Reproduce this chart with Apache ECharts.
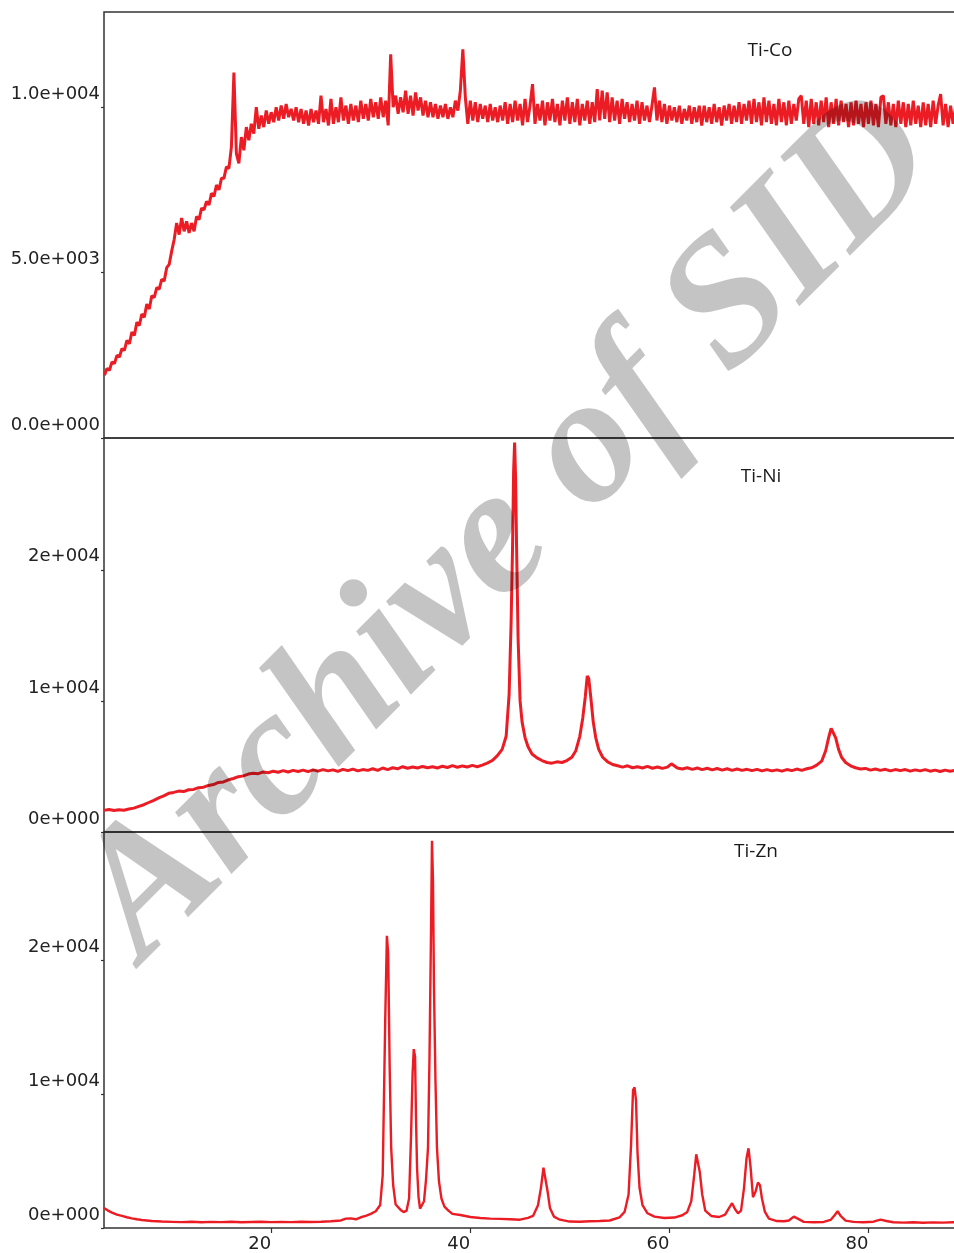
<!DOCTYPE html>
<html>
<head>
    <meta charset="utf-8">
    <title>XRD Ti-Co / Ti-Ni / Ti-Zn</title>
    <script src="https://cdnjs.cloudflare.com/ajax/libs/echarts/6.0.0/echarts.min.js"></script>
    <style>
        html, body { margin: 0; padding: 0; background: #fff; }
    </style>
</head>
<body>
    <div id="main" style="width: 954px;height:1253px;"></div>
    <script type="text/javascript">
        // 2theta range of the scans
        var xMin = 3.2;
        var xMax = 90;
        var xTicks = [20, 40, 60, 80];

        // y ticks for each panel
        var coTicks = [0, 5000, 10000];
        var coTickLabels = ['0.0e+000', '5.0e+003', '1.0e+004'];
        var niTicks = [0, 10000, 20000];
        var niTickLabels = ['0e+000', '1e+004', '2e+004'];
        var znTicks = [0, 10000, 20000];
        var znTickLabels = ['0e+000', '1e+004', '2e+004'];

        var panelNames = ['Ti-Co', 'Ti-Ni', 'Ti-Zn'];

        // Ti-Co: counts on a 0.25 deg step grid starting at 3.25
        var coStart = 3.25;
        var coStep = 0.25;
        var coCounts = [
            1900, 2100, 2050, 2300, 2250, 2500, 2450, 2700, 2650, 2950, 2850, 3200, 3100, 3500, 3400, 3750, 3650, 4050, 3900, 4300,
            4250, 4550, 4500, 4800, 4750, 5150, 5250, 5650, 6000, 6500, 6150, 6650, 6250, 6550, 6200, 6500, 6250, 6700, 6600, 6950,
            6900, 7150, 7050, 7400, 7300, 7650, 7500, 7850, 7850, 8200, 8150, 8800, 11050, 8600, 8300, 9100, 8700, 9400, 9000, 9500,
            9200, 10000, 9350, 9750, 9400, 9900, 9500, 9850, 9550, 10000, 9600, 10050, 9650, 10100, 9700, 9950, 9600, 10000, 9550, 9950,
            9500, 9900, 9450, 9950, 9550, 9900, 9500, 10350, 9550, 9950, 9450, 10250, 9500, 10000, 9550, 10300, 9600, 10050, 9500, 10100,
            9600, 10050, 9550, 10200, 9650, 10100, 9600, 10250, 9700, 10150, 9650, 10300, 9700, 10200, 9450, 11600, 10000, 10350, 9800, 10300,
            9850, 10500, 9800, 10350, 9750, 10450, 9900, 10300, 9750, 10200, 9700, 10150, 9700, 10100, 9650, 10050, 9700, 10100, 9650, 10000,
            9700, 10200, 9900, 10500, 11750, 10300, 9500, 10200, 9600, 10150, 9550, 10100, 9650, 10050, 9550, 10100, 9600, 10000, 9550, 10050,
            9600, 10150, 9500, 10100, 9550, 10200, 9600, 10100, 9450, 10250, 9550, 10050, 10700, 9500, 10100, 9600, 10200, 9450, 10150, 9600,
            10250, 9550, 10100, 9450, 10200, 9600, 10300, 9500, 10150, 9550, 10250, 9450, 10100, 9600, 10200, 9500, 10150, 9550, 10550, 9600,
            10500, 9650, 10450, 9550, 10300, 9600, 10200, 9500, 10250, 9650, 10150, 9550, 10100, 9600, 10200, 9500, 10150, 9600, 10050, 9550,
            10050, 10600, 9600, 10200, 9550, 10100, 9500, 10050, 9600, 10000, 9550, 10050, 9500, 9950, 9600, 10050, 9500, 10000, 9550, 10050,
            9450, 10050, 9550, 10000, 9500, 10100, 9550, 10000, 9450, 10050, 9600, 10100, 9500, 10050, 9550, 10150, 9500, 10100, 9600, 10200,
            9500, 10250, 9550, 10150, 9450, 10300, 9550, 10200, 9500, 10100, 9450, 10250, 9550, 10150, 9450, 10200, 9500, 10100, 9600, 10250,
            10350, 9500, 10200, 9400, 10250, 9500, 10150, 9450, 10200, 9550, 10300, 9400, 10150, 9500, 10250, 9450, 10200, 9550, 10100, 9400,
            10150, 9450, 10200, 9500, 10100, 9400, 10150, 9500, 10200, 9450, 10100, 9400, 10300, 10350, 9500, 10150, 9450, 10100, 9400, 10200,
            9500, 10150, 9400, 10100, 9450, 10200, 9500, 10050, 9400, 10150, 9450, 10100, 9400, 10200, 9500, 10050, 10400, 9450, 10100, 9400,
            10050, 9500, 10000, 9600
        ];

        // Ti-Ni: [2theta, counts]
        var niData = [
            [3.2,1650],[3.7,1720],[4.2,1640],[4.7,1700],[5.2,1660],[5.7,1750],[6.2,1820],[6.7,1950],[7.2,2080],[7.7,2250],
            [8.2,2420],[8.7,2600],[9.2,2750],[9.7,2950],[10.2,3020],[10.7,3120],[11.2,3080],[11.7,3220],[12.2,3250],[12.7,3380],
            [13.2,3420],[13.7,3550],[14.2,3620],[14.7,3780],[15.2,3820],[15.7,3980],[16.2,4080],[16.7,4220],[17.2,4280],[17.7,4420],
            [18.2,4480],[18.7,4450],[19.2,4580],[19.7,4520],[20.2,4640],[20.7,4560],[21.2,4680],[21.7,4580],[22.2,4700],[22.7,4620],
            [23.2,4720],[23.7,4600],[24.2,4740],[24.7,4640],[25.2,4760],[25.7,4660],[26.2,4740],[26.7,4620],[27.2,4780],[27.7,4680],
            [28.2,4800],[28.7,4660],[29.2,4760],[29.7,4700],[30.2,4820],[30.7,4700],[31.2,4880],[31.7,4760],[32.2,4900],[32.7,4820],
            [33.2,4980],[33.7,4860],[34.2,4960],[34.7,4880],[35.2,5000],[35.7,4900],[36.2,4980],[36.7,4880],[37.2,5020],[37.7,4920],
            [38.2,5060],[38.7,4940],[39.2,5040],[39.7,4960],[40.2,5080],[40.7,4980],[41.2,5100],[41.7,5250],[42.2,5450],[42.7,5800],
            [43.2,6300],[43.6,7300],[43.9,10500],[44.1,16000],[44.25,22000],[44.35,27500],[44.45,29700],[44.55,27000],[44.65,21700],[44.8,14800],
            [45.0,10000],[45.2,8400],[45.5,7200],[45.8,6500],[46.2,5950],[46.7,5650],[47.2,5450],[47.7,5300],[48.2,5250],[48.7,5350],
            [49.2,5300],[49.7,5450],[50.2,5700],[50.6,6200],[51.0,7300],[51.3,8700],[51.55,10300],[51.75,11900],[51.9,11700],[52.1,10300],
            [52.35,8400],[52.6,7200],[52.9,6300],[53.3,5700],[53.8,5350],[54.3,5150],[54.8,5050],[55.3,4950],[55.8,5050],[56.3,4900],
            [56.8,4980],[57.3,4880],[57.8,5000],[58.3,4860],[58.8,4960],[59.3,4850],[59.8,4950],[60.2,5200],[60.8,4880],[61.3,4800],
            [61.8,4900],[62.3,4780],[62.8,4880],[63.3,4760],[63.8,4860],[64.3,4740],[64.8,4840],[65.3,4720],[65.8,4820],[66.3,4700],
            [66.8,4800],[67.3,4700],[67.8,4780],[68.3,4680],[68.8,4780],[69.3,4660],[69.8,4760],[70.3,4660],[70.8,4740],[71.3,4640],
            [71.8,4760],[72.3,4680],[72.8,4800],[73.3,4700],[73.8,4820],[74.3,4900],[74.8,5100],[75.3,5400],[75.7,6200],[76.0,7200],
            [76.25,7900],[76.45,7950],[76.7,7200],[77.0,6300],[77.3,5700],[77.7,5300],[78.2,5050],[78.7,4900],[79.2,4800],[79.7,4850],
            [80.2,4720],[80.7,4800],[81.2,4700],[81.7,4780],[82.2,4660],[82.7,4760],[83.2,4680],[83.7,4760],[84.2,4640],[84.7,4740],
            [85.2,4660],[85.7,4760],[86.2,4640],[86.7,4720],[87.2,4620],[87.7,4720],[88.2,4640],[88.7,4700],[89.2,4650]
        ];

        // Ti-Zn: [2theta, counts]
        var znData = [
            [3.2,1500],[3.6,1300],[4.0,1150],[4.5,1000],[5.0,900],[5.5,800],[6.0,720],[6.5,650],[7.0,600],[7.5,560],
            [8.0,520],[9.0,480],[10.0,460],[11.0,440],[12.0,470],[13.0,430],[14.0,460],[15.0,440],[16.0,470],[17.0,430],
            [18.0,450],[19.0,470],[20.0,440],[21.0,460],[22.0,440],[23.0,470],[24.0,450],[25.0,470],[26.0,500],[27.0,560],
            [27.5,700],[28.0,720],[28.5,650],[29.0,800],[29.5,900],[30.0,1050],[30.5,1250],[30.95,1720],[31.2,3950],[31.45,15400],
            [31.62,21800],[31.75,20500],[31.9,12000],[32.05,6000],[32.25,3200],[32.5,1750],[33.0,1350],[33.3,1190],[33.6,1300],[33.85,2200],
            [34.05,7000],[34.2,11500],[34.32,13350],[34.45,12800],[34.55,8000],[34.65,4500],[34.8,2300],[34.95,1450],[35.15,1500],[35.35,2000],
            [35.55,3600],[35.75,6000],[35.9,12700],[36.05,22000],[36.15,28900],[36.25,26000],[36.35,18000],[36.5,11000],[36.65,6000],[36.85,3500],
            [37.1,2200],[37.4,1600],[37.8,1300],[38.2,1050],[39.0,970],[40.0,820],[41.0,750],[42.0,700],[43.0,680],[44.0,650],
            [45.0,620],[45.8,750],[46.3,900],[46.8,1700],[47.1,3000],[47.35,4500],[47.55,4400],[47.75,2800],[48.0,1500],[48.4,850],
            [49.0,620],[50.0,480],[51.0,470],[52.0,500],[53.0,520],[54.0,560],[55.0,800],[55.5,1200],[55.9,2500],[56.15,6200],
            [56.35,10300],[56.5,10500],[56.65,9500],[56.8,5600],[57.0,3000],[57.3,1700],[57.8,1100],[58.5,850],[59.5,750],[60.5,780],
            [61.3,950],[61.8,1200],[62.2,2000],[62.5,4000],[62.7,5500],[62.85,5600],[63.05,4200],[63.3,2500],[63.6,1300],[64.2,900],
            [65.0,820],[65.6,1000],[66.0,1500],[66.3,1850],[66.6,1400],[66.9,1100],[67.2,1300],[67.5,3000],[67.75,5200],[67.95,5950],
            [68.15,4600],[68.4,2300],[68.65,2700],[68.9,3400],[69.1,3200],[69.3,2200],[69.6,1200],[70.0,700],[70.8,520],[71.5,500],
            [72.0,560],[72.5,850],[72.9,700],[73.5,460],[74.5,430],[75.5,450],[76.2,600],[76.6,950],[76.9,1250],[77.2,900],
            [77.7,550],[78.5,460],[79.5,430],[80.5,470],[81.2,620],[81.8,520],[82.5,430],[83.5,400],[84.5,430],[85.5,390],
            [86.5,420],[87.5,400],[88.5,430],[89.2,410]
        ];

        var coData = coCounts.map(function (c, i) {
            return [coStart + i * coStep, c];
        });

        var myChart = echarts.init(document.getElementById('main'));

        var lineColor = '#ec1c24';
        var frameColor = '#333';
        var labelFont = 'DejaVu Sans';

        function makeGrid(top, height) {
            return {
                left: 104, top: top, width: 864, height: height,
                outerBoundsMode: 'none',
                containLabel: false,
                show: true, borderColor: frameColor, borderWidth: 1.5,
                backgroundColor: 'transparent'
            };
        }

        function makeX(idx, showLabels) {
            return {
                type: 'value', gridIndex: idx, min: xMin, max: xMax,
                axisLine: { show: false },
                splitLine: { show: false },
                axisTick: {
                    show: showLabels, length: 5, customValues: xTicks,
                    lineStyle: { color: frameColor, width: 1.2 }
                },
                axisLabel: {
                    show: showLabels, customValues: xTicks, margin: 7,
                    color: '#222', fontFamily: labelFont, fontSize: 18,
                    padding: [0, 23, 0, 0]
                }
            };
        }

        function makeY(idx, maxVal, ticks, labels) {
            return {
                type: 'value', gridIndex: idx, min: 0, max: maxVal,
                axisLine: { show: false },
                splitLine: { show: false },
                axisTick: {
                    show: true, length: 3, customValues: ticks,
                    lineStyle: { color: frameColor, width: 1.2 }
                },
                axisLabel: {
                    customValues: ticks, margin: 4,
                    color: '#222', fontFamily: labelFont, fontSize: 18,
                    verticalAlign: 'bottom', lineHeight: 26,
                    formatter: function (v) {
                        var k = ticks.indexOf(v);
                        return k >= 0 ? labels[k] : '';
                    }
                }
            };
        }

        function makeLine(idx, data, width) {
            return {
                type: 'line', xAxisIndex: idx, yAxisIndex: idx,
                data: data, symbol: 'none', silent: true,
                lineStyle: { color: lineColor, width: width },
                z: 2
            };
        }

        function panelLabel(text, x, y) {
            return {
                type: 'text', x: x, y: y, z: 50,
                style: {
                    text: text, fill: '#1a1a1a',
                    font: '19px "Open Sans"',
                    align: 'center', verticalAlign: 'middle'
                }
            };
        }

        var option = {
            animation: false,
            backgroundColor: '#fff',
            grid: [makeGrid(12, 426), makeGrid(438, 394), makeGrid(832, 396)],
            xAxis: [makeX(0, false), makeX(1, false), makeX(2, true)],
            yAxis: [
                makeY(0, 12880, coTicks, coTickLabels),
                makeY(1, 30050, niTicks, niTickLabels),
                makeY(2, 29550, znTicks, znTickLabels)
            ],
            series: [
                makeLine(0, coData, 3),
                makeLine(1, niData, 3),
                makeLine(2, znData, 2.4)
            ],
            graphic: [
                panelLabel(panelNames[0], 770, 51),
                panelLabel(panelNames[1], 761, 477),
                panelLabel(panelNames[2], 756, 852),
                {
                    // watermark over the plots
                    type: 'text', x: 510, y: 529, rotation: Math.PI / 4, z: 100,
                    silent: true,
                    style: {
                        text: 'Archive of SID',
                        font: 'italic bold 182px "Liberation Serif"',
                        fill: 'rgba(0,0,0,0.23)',
                        align: 'center', verticalAlign: 'middle'
                    }
                }
            ]
        };

        myChart.setOption(option);
    </script>
</body>
</html>
